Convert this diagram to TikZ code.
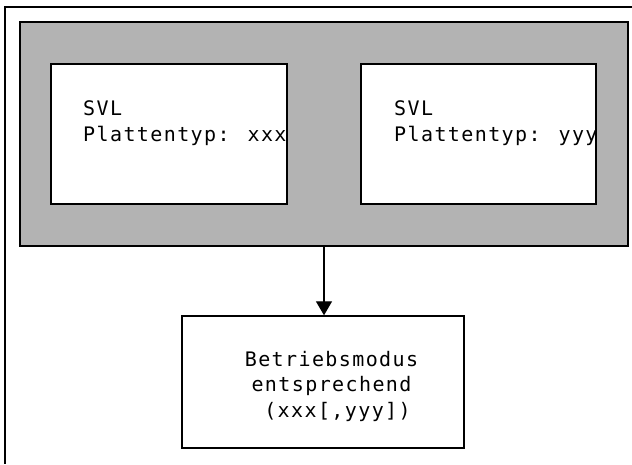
\documentclass[tikz,border=0pt]{standalone}
\usepackage{fontspec}
\newfontfamily\platte{DejaVu Sans Mono}[LetterSpace=7]
\usepackage{tikz}
\usetikzlibrary{arrows.meta,positioning}
\definecolor{rahmengrau}{HTML}{B3B3B3}
\tikzset{
  >={Triangle[length=14pt,width=16pt]},
  kasten/.style={draw=black,line width=1.4pt,fill=white,inner sep=0pt},
  grau/.style={kasten,fill=rahmengrau},
  txt/.style={font=\platte\fontsize{20}{26}\selectfont,inner sep=0pt},
  pfeil/.style={->,line width=1.3pt},
}
\begin{document}
\begin{tikzpicture}[x=1pt,y=-1pt]
\useasboundingbox (0,0) rectangle (632,464);
% Rahmen (nur oben und links sichtbar)
\draw[line width=1.4pt] (632,7) -- (5,7) -- (5,464);
\node[grau,minimum width=608pt,minimum height=224pt] (ssr) at (324,134) {};
\node[kasten,minimum width=236pt,minimum height=140pt] (svlx) at (169,134) {};
\node[kasten,minimum width=235pt,minimum height=140pt] (svly) at (478.5,134) {};
\node[txt,anchor=base west] (svlxa) at (83,115.5) {SVL};
\node[txt,anchor=base west] (svlxb) at (83,141.5) {Plattentyp: xxx};
\node[txt,anchor=base west] (svlya) at (394,115.5) {SVL};
\node[txt,anchor=base west] (svlyb) at (394,141.5) {Plattentyp: yyy};
\node[kasten,minimum width=282pt,minimum height=132pt] (modus) at (323,382) {};
\node[txt,align=center,font=\platte\fontsize{20}{25.5}\selectfont,anchor=base] (modustxt) at (331.5,417)
  {Betriebsmodus\\entsprechend\\\hphantom{x}(xxx[,yyy])};
\draw[pfeil] (ssr.south) -- (ssr.south |- modus.north);
\end{tikzpicture}
\end{document}
